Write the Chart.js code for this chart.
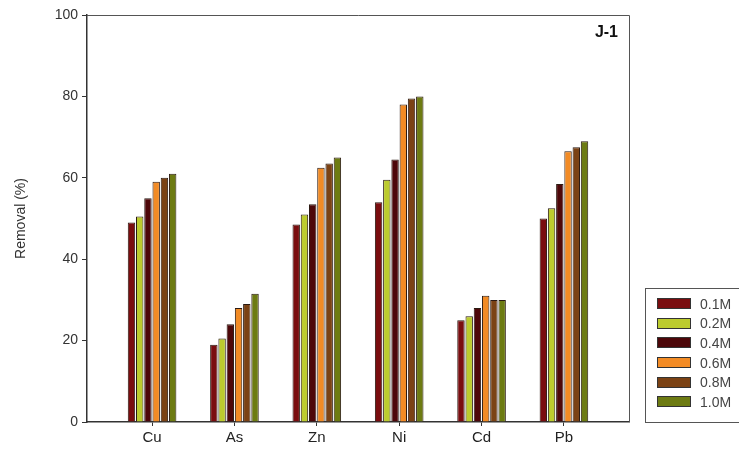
<!DOCTYPE html>
<html>
<head>
<meta charset="utf-8">
<script src="https://cdn.jsdelivr.net/npm/chart.js@4"></script>
<style>
  body { margin: 0; background: #fff; }
  #wrap { position: relative; width: 739px; height: 466px; }
  #legend {
    position: absolute; left: 645px; top: 288px; width: 100px; height: 135px;
    border: 1px solid #555; box-sizing: border-box; padding: 5px 0 0 11px;
    font-family: "Liberation Sans", Arial, sans-serif; font-size: 14px; color: #444;
  }
  #legend div { height: 19.6px; display: flex; align-items: center; }
  #legend span.sw { display: inline-block; width: 34px; height: 11px; border: 1px solid #333; margin-right: 9px; box-sizing: border-box; }
</style>
</head>
<body>
<div id="wrap">
  <canvas id="grafico" width="739" height="466"></canvas>
  <div id="legend"></div>
</div>
<script>
const metales = ['Cu', 'As', 'Zn', 'Ni', 'Cd', 'Pb'];
const concentraciones = ['0.1M', '0.2M', '0.4M', '0.6M', '0.8M', '1.0M'];
const colores = ['#7a0d0f', '#bccb2e', '#4d0709', '#f28b25', '#7b4214', '#6d7b12'];
const yTicks = [0, 20, 40, 60, 80, 100];

const rem01 = [49.0, 19.0, 48.5, 54.0, 25.0, 50.0];
const rem02 = [50.5, 20.5, 51.0, 59.5, 26.0, 52.5];
const rem04 = [55.0, 24.0, 53.5, 64.5, 28.0, 58.5];
const rem06 = [59.0, 28.0, 62.5, 78.0, 31.0, 66.5];
const rem08 = [60.0, 29.0, 63.5, 79.5, 30.0, 67.5];
const rem10 = [61.0, 31.5, 65.0, 80.0, 30.0, 69.0];
const series = [rem01, rem02, rem04, rem06, rem08, rem10];

// marco alrededor del área del gráfico + etiqueta J-1
const marco = {
  id: 'marco',
  afterDraw(chart) {
    const { ctx, chartArea: a } = chart;
    ctx.save();
    ctx.strokeStyle = '#555';
    ctx.lineWidth = 1;
    ctx.beginPath();
    ctx.moveTo(a.left, a.top + 0.5);
    ctx.lineTo(a.right + 0.5, a.top + 0.5);
    ctx.lineTo(a.right + 0.5, a.bottom);
    ctx.stroke();
    ctx.fillStyle = '#111';
    ctx.font = 'bold 16px "Liberation Sans", Arial, sans-serif';
    ctx.textAlign = 'right';
    ctx.textBaseline = 'middle';
    ctx.fillText('J-1', a.right - 11, a.top + 18);
    ctx.restore();
  }
};

const ctx = document.getElementById('grafico').getContext('2d');
new Chart(ctx, {
  type: 'bar',
  data: {
    datasets: series.map((vals, k) => ({
      label: concentraciones[k],
      data: vals.map((v, i) => ({ x: i, y: v })),
      backgroundColor: colores[k],
      borderColor: '#2b1a12',
      borderWidth: 1,
      categoryPercentage: 0.6,
      barPercentage: 0.9
    }))
  },
  options: {
    responsive: false,
    animation: false,
    layout: { padding: { top: 15, right: 110, left: 0, bottom: 0 } },
    plugins: { legend: { display: false }, tooltip: { enabled: false } },
    scales: {
      x: {
        type: 'linear',
        min: -0.79,
        max: 5.79,
        offset: false,
        afterBuildTicks: s => { s.ticks = metales.map((m, i) => ({ value: i })); },
        afterFit: s => { s.height = 44; },
        border: { display: true, color: '#333', width: 1.5 },
        grid: { display: true, offset: false, drawOnChartArea: false, drawTicks: true, tickLength: 4, color: '#333' },
        ticks: {
          callback: v => metales[v],
          color: '#222',
          padding: 3,
          font: { family: '"Liberation Sans", Arial, sans-serif', size: 15 }
        }
      },
      y: {
        min: 0,
        max: 100,
        afterBuildTicks: s => { s.ticks = yTicks.map(v => ({ value: v })); },
        afterFit: s => { s.width = 87; },
        border: { display: true, color: '#333', width: 1.5 },
        grid: { display: true, drawOnChartArea: false, drawTicks: true, tickLength: 5, color: '#333' },
        ticks: {
          color: '#333',
          padding: 4,
          font: { family: '"Liberation Sans", Arial, sans-serif', size: 14 }
        },
        title: {
          display: true,
          text: 'Removal (%)',
          color: '#333',
          padding: { top: 13, bottom: 0 },
          font: { family: '"Liberation Sans", Arial, sans-serif', size: 14 }
        }
      }
    }
  },
  plugins: [marco]
});

const leyenda = document.getElementById('legend');
concentraciones.forEach((c, k) => {
  const fila = document.createElement('div');
  fila.innerHTML = `<span class="sw" style="background:${colores[k]}"></span>${c}`;
  leyenda.appendChild(fila);
});
</script>
</body>
</html>
